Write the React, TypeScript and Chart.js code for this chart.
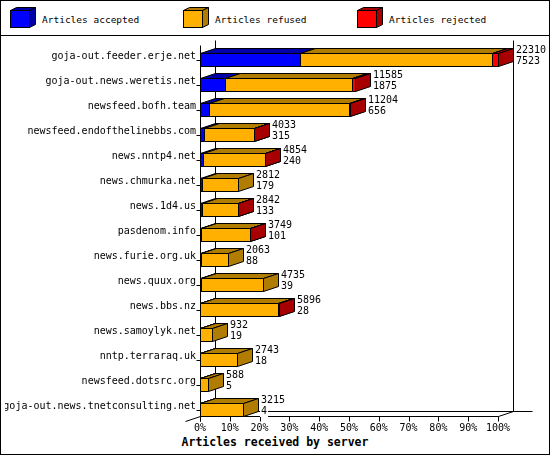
import { useEffect, useRef } from 'react'
import { Chart, registerables } from 'chart.js'

Chart.register(...registerables)

const servers = [
  'goja-out.feeder.erje.net',
  'goja-out.news.weretis.net',
  'newsfeed.bofh.team',
  'newsfeed.endofthelinebbs.com',
  'news.nntp4.net',
  'news.chmurka.net',
  'news.1d4.us',
  'pasdenom.info',
  'news.furie.org.uk',
  'news.quux.org',
  'news.bbs.nz',
  'news.samoylyk.net',
  'nntp.terraraq.uk',
  'newsfeed.dotsrc.org',
  'goja-out.news.tnetconsulting.net',
]
const totals = [22310, 11585, 11204, 4033, 4854, 2812, 2842, 3749, 2063, 4735, 5896, 932, 2743, 588, 3215]
const accepted = [7523, 1875, 656, 315, 240, 179, 133, 101, 88, 39, 28, 19, 18, 5, 4]
// rejected counts are not printed; estimated from the red slivers
const rejected = [430, 200, 40, 25, 20, 0, 15, 12, 0, 0, 30, 0, 0, 0, 0]
const xTicks = [0, 10, 20, 30, 40, 50, 60, 70, 80, 90, 100]

const seriesNames = ['Articles accepted', 'Articles refused', 'Articles rejected']
const fronts = ['#0000ff', '#ffb000', '#ff0000']
const darks = ['#0000a8', '#b07d00', '#a80000']

const DX = 15
const DY = 5
const FONT = "'DejaVu Sans Mono', monospace"

const maxTotal = Math.max(...totals)
const refused = totals.map((t, i) => t - accepted[i] - rejected[i])
const pct = (arr: number[]) => arr.map((v) => (v / maxTotal) * 100)

const px = (v: number) => Math.round(v) + 0.5

const threeD = {
  id: 'threeD',
  beforeDatasetsDraw(chart: Chart) {
    const { ctx } = chart
    const xs = chart.scales.x
    const ys = chart.scales.y
    const x0 = xs.getPixelForValue(0)
    const x1 = xs.getPixelForValue(100)
    const last = ys.getPixelForValue(servers.length - 1)
    const floor = last + 6.5
    const top = ys.top - 2
    ctx.save()
    ctx.strokeStyle = '#000'
    ctx.lineWidth = 1
    const line = (ax: number, ay: number, bx: number, by: number) => {
      ctx.beginPath()
      ctx.moveTo(px(ax), px(ay))
      ctx.lineTo(px(bx), px(by))
      ctx.stroke()
    }
    // back wall edges and floor
    line(x0 + DX, top - DY, x0 + DX, floor - DY)
    line(x1 + DX, top - DY, x1 + DX, floor - DY)
    line(x0 + DX, floor - DY, x1 + DX + 19, floor - DY)
    line(x1, floor, x1 + DX, floor - DY)
    // front axis
    line(x0, top, x0, floor + 5)
    line(x0, floor, x1, floor)
    line(x0 - DX, floor + DY, x0, floor)
    xTicks.forEach((t) => {
      const x = xs.getPixelForValue(t)
      line(x, floor, x, floor + 5)
    })
    servers.forEach((_, i) => {
      const y = ys.getPixelForValue(i)
      line(x0 - 4, y, x0, y)
    })
    ctx.restore()
  },
  afterDatasetsDraw(chart: Chart) {
    const { ctx } = chart
    ctx.save()
    ctx.lineWidth = 1
    ctx.strokeStyle = '#000'
    const poly = (pts: number[][], fill: string) => {
      ctx.beginPath()
      pts.forEach(([a, b], k) => (k ? ctx.lineTo(px(a), px(b)) : ctx.moveTo(px(a), px(b))))
      ctx.closePath()
      ctx.fillStyle = fill
      ctx.fill()
      ctx.stroke()
    }
    chart.data.datasets.forEach((ds, d) => {
      const meta = chart.getDatasetMeta(d)
      meta.data.forEach((el: any, i: number) => {
        if (!((ds.data[i] as number) > 0)) return
        const { x, y, base, height } = el.getProps(['x', 'y', 'base', 'height'], true)
        const yT = y - height / 2
        const yB = y + height / 2
        poly([[base, yT], [x, yT], [x + DX, yT - DY], [base + DX, yT - DY]], darks[d])
        poly([[x, yT], [x + DX, yT - DY], [x + DX, yB - DY], [x, yB]], darks[d])
        poly([[base, yT], [x, yT], [x, yB], [base, yB]], fronts[d])
      })
    })
    // value labels: total over accepted
    const lastMeta = chart.getDatasetMeta(2)
    ctx.font = `10px ${FONT}`
    ctx.textBaseline = 'middle'
    ctx.textAlign = 'left'
    lastMeta.data.forEach((el: any, i: number) => {
      const { x, y } = el.getProps(['x', 'y'], true)
      const tx = Math.round(x) + DX + 3
      const lines = [String(totals[i]), String(accepted[i])]
      lines.forEach((s, k) => {
        const ty = y - 4 + (k === 0 ? -5.5 : 5.5)
        const w = ctx.measureText(s).width
        ctx.fillStyle = '#fff'
        ctx.fillRect(tx - 1, Math.round(ty - 5), w + 2, 11)
        ctx.fillStyle = '#000'
        ctx.fillText(s, tx, ty)
      })
    })
    ctx.restore()
  },
}

function Cube({ color, dark }: { color: string; dark: string }) {
  return (
    <svg width={28} height={23} style={{ position: 'absolute', left: 0, top: 0 }}>
      <polygon points="0.5,3.5 19.5,3.5 25.5,0.5 6.5,0.5" fill={dark} stroke="#000" />
      <polygon points="19.5,3.5 25.5,0.5 25.5,17.5 19.5,20.5" fill={dark} stroke="#000" />
      <rect x={0.5} y={3.5} width={19} height={17} fill={color} stroke="#000" />
    </svg>
  )
}

export default function App() {
  const canvasRef = useRef<HTMLCanvasElement>(null)

  useEffect(() => {
    if (!canvasRef.current) return
    const chart = new Chart(canvasRef.current, {
      type: 'bar',
      data: {
        labels: servers,
        datasets: [accepted, refused, rejected].map((arr, d) => ({
          label: seriesNames[d],
          data: pct(arr),
          backgroundColor: fronts[d],
          borderColor: '#000',
          borderWidth: 1,
          borderSkipped: false,
          barThickness: 13,
        })),
      },
      plugins: [threeD],
      options: {
        indexAxis: 'y',
        animation: false,
        responsive: true,
        maintainAspectRatio: false,
        devicePixelRatio: 1,
        layout: { padding: { left: 4, right: 51, top: 11, bottom: 0 } },
        font: { family: FONT, size: 10 },
        color: '#000',
        plugins: { legend: { display: false }, tooltip: { enabled: false }, title: { display: false } },
        scales: {
          x: {
            stacked: true,
            min: 0,
            max: 100,
            afterFit: (s: any) => {
              s.height = 14
            },
            afterBuildTicks: (s: any) => {
              s.ticks = xTicks.map((v) => ({ value: v }))
            },
            grid: { display: false, drawTicks: false },
            border: { display: false },
            ticks: {
              padding: 0,
              color: '#000',
              font: { family: FONT, size: 10 },
              maxRotation: 0,
              autoSkip: false,
              callback: (v) => `${v}%`,
            },
          },
          y: {
            stacked: true,
            afterFit: (s: any) => {
              s.width = 195
            },
            grid: { display: false, drawTicks: false },
            border: { display: false },
            ticks: {
              padding: 4,
              labelOffset: -3,
              color: '#000',
              font: { family: FONT, size: 10 },
              autoSkip: false,
            },
          },
        },
      },
    })
    return () => chart.destroy()
  }, [])

  return (
    <div
      style={{
        position: 'absolute',
        left: 0,
        top: 0,
        width: 550,
        height: 455,
        boxSizing: 'border-box',
        border: '1px solid #000',
        background: '#fff',
        fontFamily: FONT,
        color: '#000',
      }}
    >
      <div style={{ position: 'relative', height: 34, borderBottom: '1px solid #000' }}>
        {seriesNames.map((name, d) => (
          <div key={name} style={{ position: 'absolute', left: [9, 182, 356][d], top: 6, width: 170, height: 24 }}>
            <Cube color={fronts[d]} dark={darks[d]} />
            <span style={{ position: 'absolute', left: 32, top: 7, fontSize: 9.5, lineHeight: '12px', whiteSpace: 'nowrap' }}>
              {name}
            </span>
          </div>
        ))}
      </div>
      <div style={{ position: 'relative', width: 548, height: 400 }}>
        <canvas ref={canvasRef} />
      </div>
      <div style={{ height: 17, lineHeight: '13px', textAlign: 'center', fontWeight: 'bold', fontSize: 11.5 }}>
        Articles received by server
      </div>
    </div>
  )
}
